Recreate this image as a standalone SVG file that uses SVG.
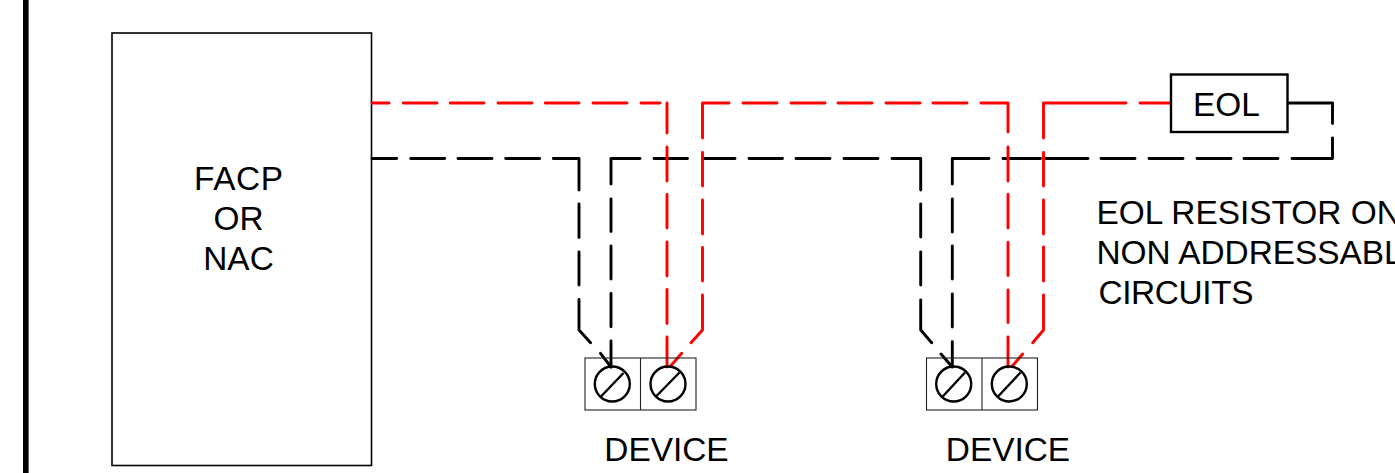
<svg xmlns="http://www.w3.org/2000/svg" width="1395" height="473" viewBox="0 0 1395 473">
<style>
text{font-family:"Liberation Sans",Arial,sans-serif;font-size:33.4px;fill:#000}
.m{text-anchor:middle}
.w{fill:none;stroke-width:2.9;stroke-linecap:round;stroke-linejoin:round}
.r{stroke:#f00}
.k{stroke:#000}
.box{fill:#fff;stroke:#000;stroke-width:1.6}
.t{fill:none;stroke:#222;stroke-width:1.1}
.c{fill:none;stroke:#000;stroke-width:2.4}
.s{stroke:#000;stroke-width:2.4}
</style>
<rect x="0" y="0" width="1395" height="473" fill="#fff"/>
<rect id="border" x="23" y="0" width="5.6" height="473" fill="#000"/>
<g id="facp">
<rect class="box" x="112" y="33" width="259.5" height="432.5"/>
<text class="m" x="238.500" y="190" textLength="89">FACP</text>
<text class="m" x="238.500" y="230">OR</text>
<text class="m" x="238.500" y="270">NAC</text>
</g>
<g id="connectors">
<path class="w k" d="M372 158.500H396.700M410.700 158.500H444.700M458 158.500H492M505.700 158.500H539.700M553.300 158.500H579V190M579 204V237.500M579 252V285M579 299.500V330L590.600 342.700M600.500 353.300L611 367"/>
<path class="w k" d="M640 158.500H611V184M611 199V231.500M611 246V279M611 293.500V326.700M611 341V367"/>
<path class="w k" d="M654 158.500H687.500M703 158.500H735M749 158.500H782.500M796 158.500H830M844 158.500H878M892 158.500H920.700V190M920.700 204V237M920.700 252V285M920.700 300V330L931.700 342.700M941 354L952.300 367"/>
<path class="w k" d="M989 158.500H952.300V184M952.300 199V232M952.300 246V279M952.300 294V327M952.300 341.700V367"/>
<path class="w k" d="M1003 158.500H1040.500M1046 158.500H1088M1101 158.500H1135M1149 158.500H1183M1197 158.500H1231M1244 158.500H1278M1292 158.500H1332.500V138M1332.500 123.500V103H1288"/>
<path class="w r" d="M372 103H389M403.300 103H437M450.300 103H484M498 103H532M545.300 103H579M593 103H627M641 103H660M667 103V133M667 147V181M667 194.500V228M667 242V276M667 289.500V323.500M667 337V367"/>
<path class="w r" d="M729 103H702.500V138M702.500 152.500V186M702.500 200V234M702.500 247.500V281M702.500 295V330L691 342.700M681.700 353.300L670 366.700"/>
<path class="w r" d="M743 103H777M791 103H825M838 103H872M886 103H920M933 103H967M981 103H1008V132M1008 147V181M1008 194.500V228M1008 242.500V275.500M1008 290V322.500M1008 337V367"/>
<path class="w r" d="M1126 103H1043.500V138M1043.500 152.500V186M1043.500 200V234M1043.500 247V281M1043.500 295V330L1032.700 342.700M1022.700 354L1011.700 366.700"/>
<path class="w r" d="M1140 103H1171"/>
</g>
<g id="eol">
<rect fill="#fff" stroke="#000" stroke-width="2.4" x="1171" y="74.500" width="116.500" height="57.500"/>
<text class="m" x="1226.500" y="116">EOL</text>
</g>
<g id="device1">
<rect class="t" x="585" y="358" width="111" height="52"/>
<path class="t" d="M640.500 358V410"/>
<circle class="c" cx="612.300" cy="384" r="17.500"/>
<circle class="c" cx="668" cy="384" r="17.500"/>
<path class="s" d="M601 396.500L623.500 373M656 396.500L679.500 372.500"/>
<text class="m" x="666.500" y="461">DEVICE</text>
</g>
<g id="device2">
<rect class="t" x="926.500" y="358" width="111" height="52"/>
<path class="t" d="M982 358V410"/>
<circle class="c" cx="953.700" cy="384" r="17.500"/>
<circle class="c" cx="1009.300" cy="384" r="17.500"/>
<path class="s" d="M942.700 396.500L965 372.500M998 396.500L1020.500 372.500"/>
<text class="m" x="1008" y="461">DEVICE</text>
</g>
<g id="note">
<text x="1096.500" y="224">EOL RESISTOR ON</text>
<text x="1096.500" y="264">NON ADDRESSABLE</text>
<text x="1098.500" y="304" textLength="155">CIRCUITS</text>
</g>
</svg>
